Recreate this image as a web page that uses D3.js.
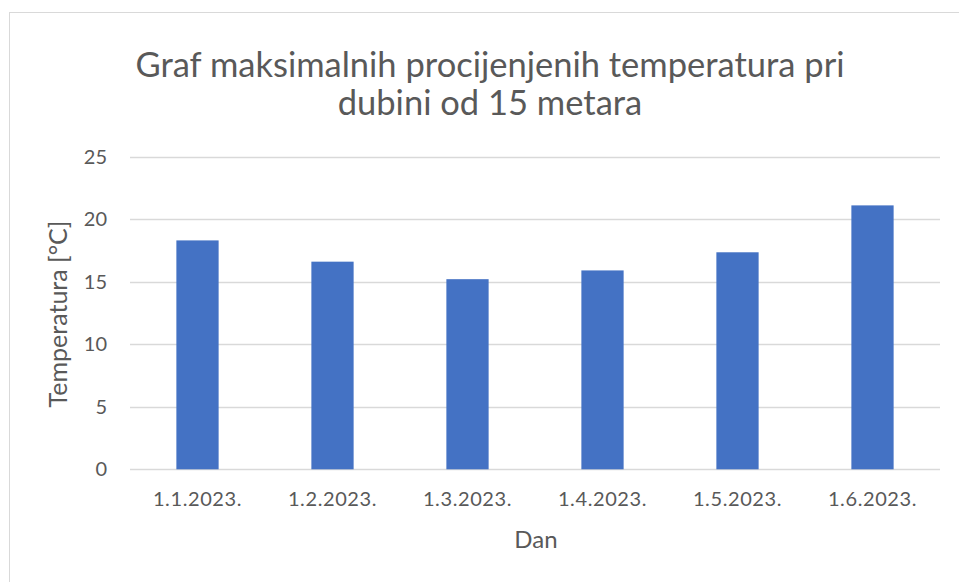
<!DOCTYPE html>
<html>
<head>
<meta charset="utf-8">
<script src="https://cdn.jsdelivr.net/npm/d3@7"></script>
<style>
  html, body { margin: 0; padding: 0; background: #fff; }
  text { font-family: Lato, "Open Sans", sans-serif; fill: #595959; }
</style>
</head>
<body>
<svg id="chart" width="959" height="582"></svg>
<script>
(function() {
  'use strict';

  // data
  const days = ['1.1.2023.', '1.2.2023.', '1.3.2023.', '1.4.2023.', '1.5.2023.', '1.6.2023.'];
  const maxTemps = [18.3, 16.6, 15.2, 15.9, 17.35, 21.1];
  const yTicks = [0, 5, 10, 15, 20, 25];
  const titleLines = ['Graf maksimalnih procijenjenih temperatura pri', 'dubini od 15 metara'];

  const svg = d3.select('#chart');

  // outer chart frame (only top/left edges are inside the picture)
  svg.append('rect')
    .attr('x', 9.5).attr('y', 12.5)
    .attr('width', 1000).attr('height', 1000)
    .attr('fill', '#fff')
    .attr('stroke', '#d9d9d9')
    .attr('stroke-width', 1);

  const plot = { left: 130, right: 940, top: 156.6, bottom: 469.3 };

  const x = d3.scaleBand()
    .domain(days)
    .range([plot.left, plot.right])
    .paddingInner(0.687)
    .paddingOuter(0.3435);

  const y = d3.scaleLinear()
    .domain([0, 25])
    .range([plot.bottom, plot.top]);

  // gridlines
  svg.append('g')
    .selectAll('line')
    .data(yTicks)
    .join('line')
    .attr('x1', plot.left).attr('x2', plot.right)
    .attr('y1', d => Math.round(y(d)) + 0.5)
    .attr('y2', d => Math.round(y(d)) + 0.5)
    .attr('stroke', '#d9d9d9')
    .attr('stroke-width', 1.3);

  // bars
  svg.append('g')
    .selectAll('rect')
    .data(maxTemps)
    .join('rect')
    .attr('x', (d, i) => x(days[i]))
    .attr('width', x.bandwidth())
    .attr('y', d => y(d))
    .attr('height', d => y(0) - y(d))
    .attr('fill', '#4472c4');

  // y axis labels
  const yAxis = d3.axisLeft(y).tickValues(yTicks).tickSize(0).tickPadding(0);
  const gy = svg.append('g')
    .attr('transform', `translate(${107},0)`)
    .call(yAxis);
  gy.select('.domain').remove();
  gy.selectAll('text')
    .attr('font-family', 'Lato, sans-serif')
    .attr('font-size', 20)
    .attr('fill', '#595959');

  // x axis labels
  const xAxis = d3.axisBottom(x).tickSize(0).tickPadding(0);
  const gx = svg.append('g')
    .attr('transform', `translate(0,${plot.bottom + 22})`)
    .call(xAxis);
  gx.select('.domain').remove();
  gx.selectAll('text')
    .attr('font-family', 'Lato, sans-serif')
    .attr('font-size', 20)
    .attr('letter-spacing', 0.6)
    .attr('fill', '#595959');

  // title
  svg.append('g')
    .selectAll('text')
    .data(titleLines)
    .join('text')
    .attr('x', 490)
    .attr('y', (d, i) => 77 + i * 38)
    .attr('text-anchor', 'middle')
    .attr('font-size', 34.5)
    .text(d => d);

  // axis titles
  svg.append('text')
    .attr('x', 536)
    .attr('y', 548)
    .attr('text-anchor', 'middle')
    .attr('font-size', 24)
    .text('Dan');

  svg.append('text')
    .attr('transform', `translate(67,${314}) rotate(-90)`)
    .attr('text-anchor', 'middle')
    .attr('font-size', 25)
    .text('Temperatura [°C]');
})();
</script>
</body>
</html>
